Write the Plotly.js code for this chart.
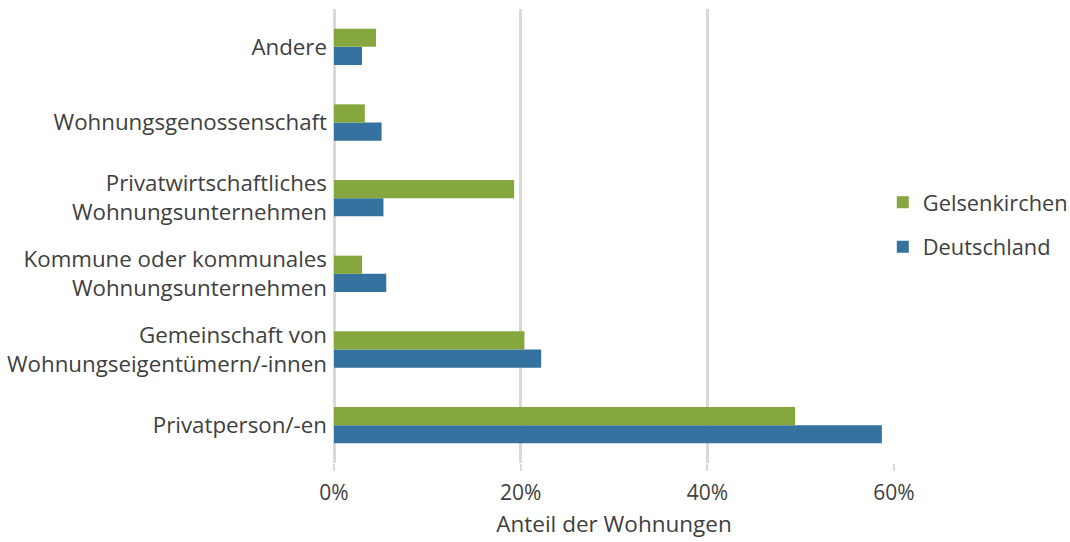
<!DOCTYPE html>
<html>
<head>
<meta charset="utf-8">
<script src="https://cdn.plot.ly/plotly-3.0.1.min.js"></script>
<style>html,body{margin:0;padding:0;background:#fff;}#chart{width:1070px;height:542px;}</style>
</head>
<body>
<div id="chart"></div>
<script>
const categories = [
  "Privatperson/-en",
  "Gemeinschaft von<br>Wohnungseigentümern/-innen",
  "Kommune oder kommunales<br>Wohnungsunternehmen",
  "Privatwirtschaftliches<br>Wohnungsunternehmen",
  "Wohnungsgenossenschaft",
  "Andere"
];
const deutschland = [58.7, 22.2, 5.6, 5.3, 5.1, 3.0];
const gelsenkirchen = [49.4, 20.4, 3.0, 19.3, 3.3, 4.5];
const seriesNames = ["Deutschland", "Gelsenkirchen"];
const xTicks = [0, 20, 40, 60];
const xTickLabels = ["0%", "20%", "40%", "60%"];

const FONT = "Open Sans, Noto Sans, sans-serif";
const traces = [
  {type: 'bar', orientation: 'h', name: seriesNames[0], y: categories, x: deutschland,
   marker: {color: '#3572a0'}, legendrank: 2, legendgroup: 'd', hoverinfo: 'x+y'},
  {type: 'bar', orientation: 'h', name: seriesNames[1], y: categories, x: gelsenkirchen,
   marker: {color: '#86a63e'}, legendrank: 1, legendgroup: 'g', hoverinfo: 'x+y'}
];
const layout = {
  width: 1070, height: 542,
  margin: {l: 334, r: 176, t: 9, b: 79, autoexpand: false},
  paper_bgcolor: '#fff', plot_bgcolor: '#fff',
  font: {family: FONT, size: 21, color: '#404040'},
  barmode: 'group', bargap: 0.52, bargroupgap: 0,
  xaxis: {
    range: [0, 60], tickvals: xTicks, ticktext: xTickLabels,
    showgrid: true, gridcolor: '#d9d9d9', gridwidth: 3,
    zeroline: true, zerolinecolor: '#d9d9d9', zerolinewidth: 3,
    ticks: 'outside', ticklen: 7, tickcolor: '#d9d9d9', tickwidth: 2,
    ticklabelstandoff: 4,
    tickfont: {size: 21, color: '#404040'},
    title: {text: 'Anteil der Wohnungen', font: {size: 22.5, color: '#404040'}, standoff: 11},
    showline: false, fixedrange: true, automargin: false
  },
  yaxis: {
    showgrid: false, showline: false, ticks: '', ticklabelstandoff: 6,
    tickfont: {size: 22.3, color: '#404040'}, fixedrange: true, automargin: false
  },
  legend: {
    x: 0.98, xanchor: 'left', y: 0.525, yanchor: 'middle',
    traceorder: 'grouped', tracegroupgap: 13,
    font: {size: 21.8, color: '#404040'}, itemwidth: 30
  },
  showlegend: true
};
Plotly.newPlot('chart', traces, layout, {displayModeBar: false, staticPlot: true});
</script>
</body>
</html>
